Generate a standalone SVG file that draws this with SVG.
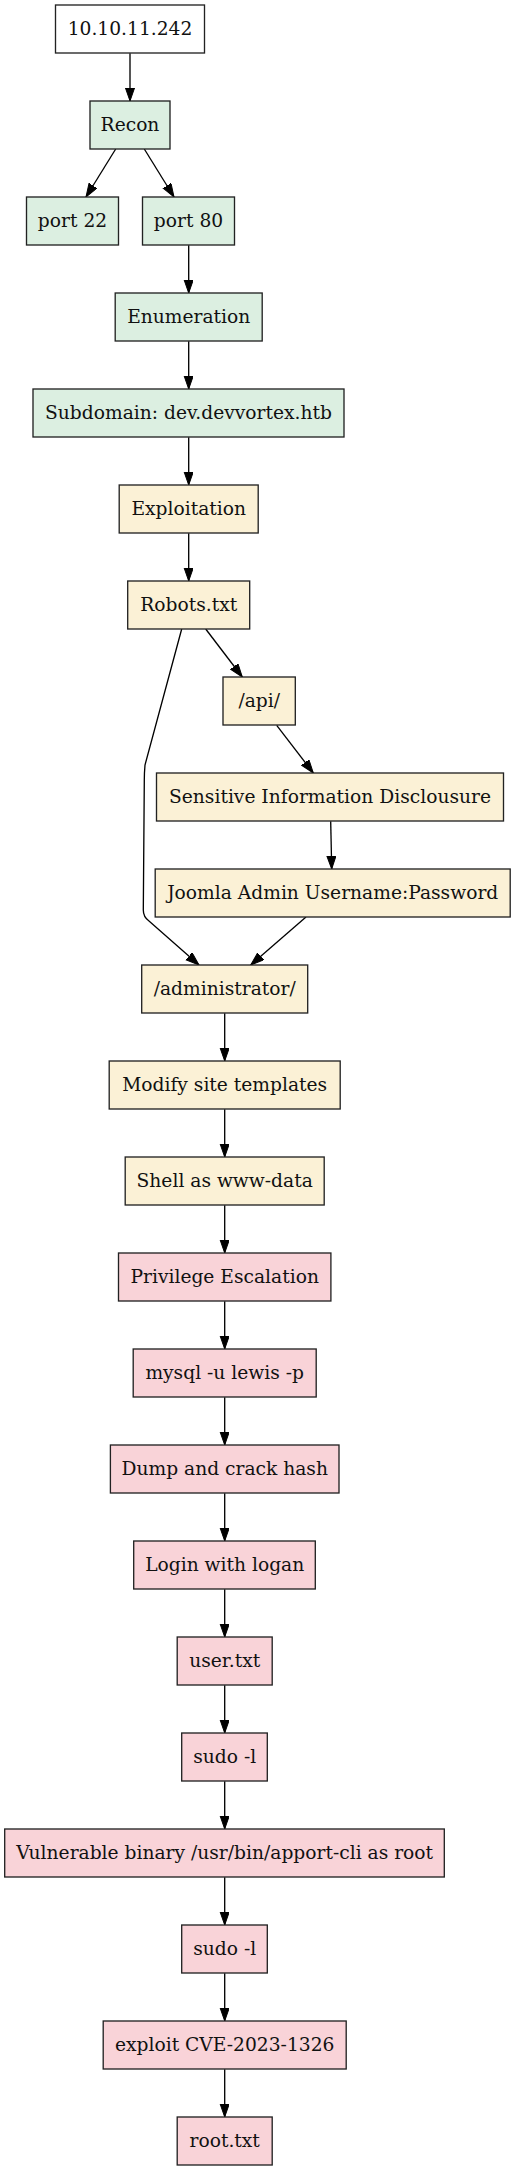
<svg xmlns="http://www.w3.org/2000/svg" width="515" height="2171" viewBox="0 0 515 2171">
<style>
rect{stroke:#222;stroke-width:1.33}
.g{fill:#dcefe1}.y{fill:#fbf1d6}.p{fill:#f9d3d8}.w{fill:#fff}
text{font-family:"DejaVu Serif",serif;font-size:18.67px;fill:#111;text-anchor:middle}
.e path{fill:none;stroke:#000;stroke-width:1.33;marker-end:url(#ah)}
</style>
<defs>
<marker id="ah" markerWidth="15" markerHeight="11" refX="13.33" refY="4.67" orient="auto" markerUnits="userSpaceOnUse">
<path d="M0,0 L13.33,4.67 L0,9.33 z" fill="#000" stroke="#000" stroke-width="1"/>
</marker>
</defs>
<rect width="515" height="2171" fill="#fff" style="stroke:none"/>
<g class="e" id="edges">
<path d="M130,53.3 V101"/>
<path d="M115.7,149 L86,197"/>
<path d="M144.3,149 L174,197"/>
<path d="M188.7,245.3 V293"/>
<path d="M188.7,341.3 V389"/>
<path d="M188.7,437.3 V485"/>
<path d="M188.7,533.3 V581"/>
<path d="M205.7,629 L242.3,677"/>
<path d="M181.7,629 L145,765 Q144.3,773 144.3,780 L143.3,910 Q143.3,917 149,921 L199,965"/>
<path d="M276.7,725.3 L313.3,773"/>
<path d="M330.7,821.3 L331.7,869"/>
<path d="M306,917 L250.7,965"/>
<path d="M224.7,1013.3 V1061"/>
<path d="M224.7,1109.3 V1157"/>
<path d="M224.7,1205.3 V1253"/>
<path d="M224.7,1301.3 V1349"/>
<path d="M224.7,1397.3 V1445"/>
<path d="M224.7,1493.3 V1541"/>
<path d="M224.7,1589.3 V1637"/>
<path d="M224.7,1685.3 V1733"/>
<path d="M224.7,1781.3 V1829"/>
<path d="M224.7,1877.3 V1925"/>
<path d="M224.7,1973.3 V2021"/>
<path d="M224.7,2069.3 V2117"/>
</g>
<g id="n_ip"><rect class="w" x="55.5" y="5" width="149" height="48"/><text x="130" y="34.6">10.10.11.242</text></g>
<g id="n_recon"><rect class="g" x="90" y="101" width="80" height="48"/><text x="130" y="130.6">Recon</text></g>
<g id="n_p22"><rect class="g" x="26.5" y="197" width="92" height="48"/><text x="72.5" y="226.6">port 22</text></g>
<g id="n_p80"><rect class="g" x="142.5" y="197" width="92" height="48"/><text x="188.5" y="226.6">port 80</text></g>
<g id="n_enum"><rect class="g" x="115.2" y="293" width="147" height="48"/><text x="188.7" y="322.6">Enumeration</text></g>
<g id="n_sub"><rect class="g" x="33" y="389" width="311" height="48"/><text x="188.5" y="418.6">Subdomain: dev.devvortex.htb</text></g>
<g id="n_expl"><rect class="y" x="119.2" y="485" width="139" height="48"/><text x="188.7" y="514.6">Exploitation</text></g>
<g id="n_robots"><rect class="y" x="127.7" y="581" width="122" height="48"/><text x="188.7" y="610.6">Robots.txt</text></g>
<g id="n_api"><rect class="y" x="223" y="677" width="72.3" height="48"/><text x="259.2" y="706.6">/api/</text></g>
<g id="n_sens"><rect class="y" x="156.5" y="773" width="347" height="48"/><text x="330" y="802.6">Sensitive Information Disclousure</text></g>
<g id="n_joomla"><rect class="y" x="155.2" y="869" width="355" height="48"/><text x="332.7" y="898.6">Joomla Admin Username:Password</text></g>
<g id="n_admin"><rect class="y" x="141.7" y="965" width="166" height="48"/><text x="224.7" y="994.6">/administrator/</text></g>
<g id="n_modify"><rect class="y" x="109.2" y="1061" width="231" height="48"/><text x="224.7" y="1090.6">Modify site templates</text></g>
<g id="n_shell"><rect class="y" x="125.2" y="1157" width="199" height="48"/><text x="224.7" y="1186.6">Shell as www-data</text></g>
<g id="n_priv"><rect class="p" x="118.5" y="1253" width="212.4" height="48"/><text x="224.7" y="1282.6">Privilege Escalation</text></g>
<g id="n_mysql"><rect class="p" x="133.2" y="1349" width="183" height="48"/><text x="224.7" y="1378.6">mysql -u lewis -p</text></g>
<g id="n_dump"><rect class="p" x="110.4" y="1445" width="228.6" height="48"/><text x="224.7" y="1474.6">Dump and crack hash</text></g>
<g id="n_login"><rect class="p" x="133.7" y="1541" width="181.6" height="48"/><text x="224.7" y="1570.6">Login with logan</text></g>
<g id="n_user"><rect class="p" x="177.2" y="1637" width="95" height="48"/><text x="224.7" y="1666.6">user.txt</text></g>
<g id="n_sudo1"><rect class="p" x="181.7" y="1733" width="85.6" height="48"/><text x="224.7" y="1762.6">sudo -l</text></g>
<g id="n_vuln"><rect class="p" x="4.7" y="1829" width="439.6" height="48"/><text x="224.7" y="1858.6">Vulnerable binary /usr/bin/apport-cli as root</text></g>
<g id="n_sudo2"><rect class="p" x="181.7" y="1925" width="85.6" height="48"/><text x="224.7" y="1954.6">sudo -l</text></g>
<g id="n_cve"><rect class="p" x="103.2" y="2021" width="243" height="48"/><text x="224.7" y="2050.6">exploit CVE-2023-1326</text></g>
<g id="n_root"><rect class="p" x="177.2" y="2117" width="95" height="48"/><text x="224.7" y="2146.6">root.txt</text></g>
</svg>
